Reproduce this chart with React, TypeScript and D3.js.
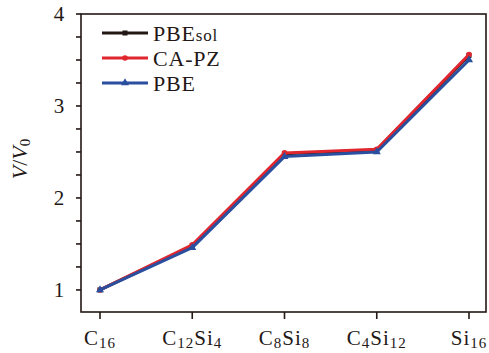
import React from "react";
import * as d3 from "d3";

const categories = ["C16", "C12Si4", "C8Si8", "C4Si12", "Si16"];
const labelParts: [string, string][][] = [
  [["C", "16"]],
  [["C", "12"], ["Si", "4"]],
  [["C", "8"], ["Si", "8"]],
  [["C", "4"], ["Si", "12"]],
  [["Si", "16"]],
];
const pbesol = [1.0, 1.48, 2.48, 2.52, 3.55];
const capz = [1.0, 1.49, 2.49, 2.53, 3.56];
const pbe = [1.0, 1.46, 2.45, 2.5, 3.5];
const yTicks = [1, 2, 3, 4];
const yMinor = d3.range(1, 4.01, 0.25);

const W = 489, H = 353;
const m = { left: 81, right: 486, top: 14, bottom: 312 };

export default function App() {
  const x = d3.scalePoint<string>().domain(categories).range([100, 469]);
  const y = d3.scaleLinear().domain([0.76, 4]).range([m.bottom, m.top]);
  const line = d3.line<number>().x((_, i) => x(categories[i])!).y((d) => y(d));
  const series = [
    { name: "PBE", small: "sol", data: pbesol, color: "#231815", marker: "square" },
    { name: "CA-PZ", small: "", data: capz, color: "#e0262f", marker: "circle" },
    { name: "PBE", small: "", data: pbe, color: "#2a4f9e", marker: "triangle" },
  ];
  const marker = (type: string, cx: number, cy: number, color: string, key: string) => {
    if (type === "square") return <rect key={key} x={cx - 2.5} y={cy - 2.5} width={5} height={5} fill={color} />;
    if (type === "circle") return <circle key={key} cx={cx} cy={cy} r={2.8} fill={color} />;
    const p = d3.symbol().type(d3.symbolTriangle).size(28)();
    return <path key={key} d={p!} transform={`translate(${cx},${cy})`} fill={color} />;
  };
  const font = "'Liberation Serif', 'DejaVu Serif', serif";
  return (
    <svg width={W} height={H} style={{ position: "absolute", left: 0, top: 0 }} fontFamily={font}>
      <rect width={W} height={H} fill="#fff" />
      <rect x={m.left} y={m.top} width={m.right - m.left} height={m.bottom - m.top} fill="none" stroke="#231815" strokeWidth={1.6} />
      {yMinor.map((v) => (
        <line key={"ym" + v} x1={m.left - 5} x2={m.left} y1={y(v)} y2={y(v)} stroke="#231815" strokeWidth={1.6} />
      ))}
      {yTicks.map((v) => (
        <text key={"yt" + v} x={59} y={y(v)} dy="0.35em" textAnchor="middle" fontSize={21} fill="#231815">{v}</text>
      ))}
      {categories.map((c) => (
        <line key={"xt" + c} x1={x(c)} x2={x(c)} y1={m.bottom} y2={m.bottom + 7} stroke="#231815" strokeWidth={1.6} />
      ))}
      {categories.map((c, i) => (
        <text key={"xl" + c} x={x(c)} y={345} textAnchor="middle" fontSize={21} fill="#231815" letterSpacing={1}>
          {labelParts[i].map(([el, n], j) => (
            <React.Fragment key={j}>
              <tspan dy={j > 0 ? -3 : 0}>{el}</tspan>
              <tspan fontSize={15} dy={3}>{n}</tspan>
            </React.Fragment>
          ))}
        </text>
      ))}
      <text transform={`translate(27,159) rotate(-90)`} textAnchor="middle" fontSize={22} fill="#231815">
        <tspan fontStyle="italic">V</tspan>/<tspan fontStyle="italic">V</tspan>
        <tspan fontSize={15} dy={3}>0</tspan>
      </text>
      {series.map((s, k) => (
        <g key={"s" + k}>
          <path d={line(s.data)!} fill="none" stroke={s.color} strokeWidth={3} strokeLinejoin="round" />
          {s.data.map((v, i) => marker(s.marker, x(categories[i])!, y(v), s.color, "m" + k + i))}
        </g>
      ))}
      {series.map((s, i) => {
        const ly = 33 + i * 25;
        return (
          <g key={"lg" + i}>
            <line x1={102} x2={148} y1={ly} y2={ly} stroke={s.color} strokeWidth={3} />
            {marker(s.marker, 125, ly, s.color, "lm" + i)}
            <text x={153} y={ly + 7.5} fontSize={22} fill="#231815" letterSpacing={0.8}>
              {s.name}
              {s.small ? <tspan fontSize={17}>{s.small}</tspan> : null}
            </text>
          </g>
        );
      })}
    </svg>
  );
}
